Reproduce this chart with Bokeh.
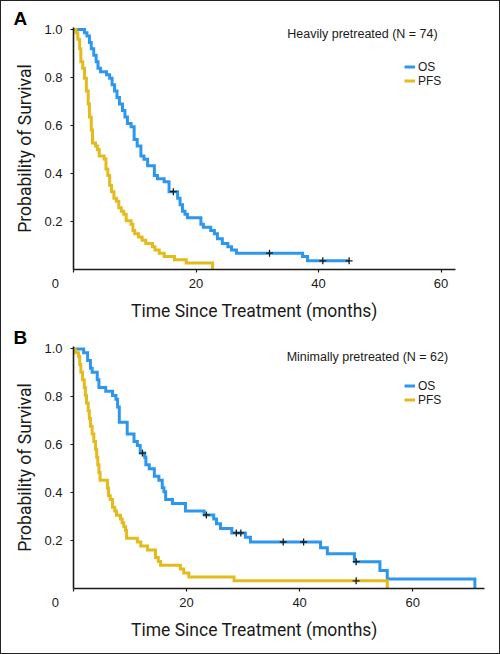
from bokeh.plotting import figure
from bokeh.layouts import column
from bokeh.models import Range1d, FixedTicker, Label, Legend, LegendItem, PrintfTickFormatter
from bokeh.embed import file_html
from bokeh.resources import INLINE

# ---------------- data ----------------
# Panel A: heavily pretreated (N = 74)
a_os_t = [0, 1.8, 2.2, 2.6, 2.9, 3.3, 3.7, 4.0, 4.4, 5.4, 5.9, 6.3, 6.7, 7.1, 7.5, 8.0, 8.4, 8.8, 9.4,
          9.9, 10.4, 11.0, 11.5, 12.1, 13.2, 13.7, 14.8, 15.6, 17.0, 17.4, 17.8, 18.2, 18.6, 20.8, 21.2,
          22.4, 23.0, 23.5, 24.3, 25.2, 25.8, 26.6, 37.4, 38.2, 45.0]
a_os_s = [1.0, 0.986, 0.973, 0.946, 0.919, 0.892, 0.865, 0.838, 0.824, 0.811, 0.797, 0.770, 0.743, 0.716, 0.689,
          0.662, 0.635, 0.608, 0.595, 0.541, 0.514, 0.473, 0.459, 0.432, 0.392, 0.378, 0.365, 0.324, 0.297,
          0.270, 0.243, 0.230, 0.216, 0.189, 0.176, 0.162, 0.149, 0.128, 0.108, 0.095, 0.081, 0.068, 0.054,
          0.036, 0.036]
a_os_cens_t = [16.3, 32.0, 40.7, 45.0]
a_os_cens_s = [0.324, 0.068, 0.036, 0.036]

a_pfs_t = [0, 0.4, 0.7, 1.0, 1.2, 1.5, 1.8, 2.1, 2.4, 2.6, 2.9, 3.1, 3.6, 3.9, 4.2, 5.0, 5.3, 5.6, 5.9,
           6.2, 6.6, 7.0, 7.4, 7.8, 8.2, 8.6, 9.4, 9.7, 10.0, 10.6, 11.2, 11.8, 12.9, 13.3, 14.0, 14.8,
           16.5, 18.4, 22.7]
a_pfs_s = [1.0, 0.986, 0.959, 0.919, 0.865, 0.838, 0.797, 0.743, 0.689, 0.635, 0.581, 0.527, 0.514, 0.500,
           0.473, 0.460, 0.419, 0.392, 0.351, 0.324, 0.297, 0.284, 0.257, 0.243, 0.230, 0.203, 0.189, 0.162,
           0.149, 0.135, 0.122, 0.108, 0.095, 0.081, 0.068, 0.054, 0.041, 0.027, 0.0]

# Panel B: minimally pretreated (N = 62)
b_os_t = [0, 1.8, 2.5, 3.0, 3.3, 4.2, 4.5, 5.7, 6.9, 7.5, 7.8, 8.1, 9.5, 10.7, 11.3, 11.8, 12.6, 12.8,
          13.4, 14.3, 15.1, 15.7, 16.0, 16.3, 17.5, 19.8, 23.1, 24.8, 25.3, 26.0, 28.0, 30.4, 31.3, 43.7,
          44.9, 49.7, 54.2, 55.5, 71.0]
b_os_s = [1.0, 0.984, 0.952, 0.919, 0.903, 0.871, 0.839, 0.823, 0.806, 0.790, 0.758, 0.694, 0.645, 0.613,
          0.597, 0.565, 0.548, 0.516, 0.500, 0.468, 0.452, 0.420, 0.404, 0.371, 0.355, 0.323, 0.307, 0.290,
          0.270, 0.250, 0.232, 0.214, 0.194, 0.170, 0.145, 0.112, 0.075, 0.040, 0.0]
b_os_cens_t = [12.2, 23.5, 28.8, 29.6, 37.1, 40.7, 50.0]
b_os_cens_s = [0.565, 0.307, 0.232, 0.232, 0.194, 0.194, 0.112]

b_pfs_t = [0, 0.3, 0.9, 1.1, 1.3, 1.6, 1.9, 2.1, 2.3, 2.6, 2.8, 3.0, 3.3, 3.6, 3.9, 4.1, 4.3, 4.5, 4.7,
           6.0, 6.2, 6.5, 6.9, 7.3, 7.6, 8.3, 8.6, 8.9, 9.2, 9.4, 11.3, 11.9, 13.1, 14.5, 15.0, 15.4,
           18.9, 19.5, 20.4, 28.4, 55.5]
b_pfs_s = [1.0, 0.984, 0.968, 0.935, 0.903, 0.871, 0.839, 0.806, 0.774, 0.742, 0.710, 0.677, 0.645, 0.613,
           0.581, 0.548, 0.516, 0.484, 0.452, 0.419, 0.387, 0.371, 0.339, 0.323, 0.306, 0.290, 0.274, 0.258,
           0.242, 0.210, 0.194, 0.177, 0.161, 0.129, 0.113, 0.097, 0.081, 0.065, 0.048, 0.032, 0.0]
b_pfs_cens_t = [50.0]
b_pfs_cens_s = [0.032]

x_ticks = [0, 20, 40, 60]
y_ticks = [0.2, 0.4, 0.6, 0.8, 1.0]
series_names = ["OS", "PFS"]
panel_titles = ["Heavily pretreated (N = 74)", "Minimally pretreated (N = 62)"]
panel_letters = ["A", "B"]
x_label = "Time Since Treatment (months)"
y_label = "Probability of Survival"

# ---------------- styling ----------------
BLUE = "#2D97EF"
YELLOW = "#E4BA1C"
INK = "#1a1a1a"
FONT = "Liberation Sans"
LABEL_FONT = "Roboto"
FSP = "\u2007"


def make_panel(os_t, os_s, osc_t, osc_s, pfs_t, pfs_s, pfc_t, pfc_s,
               xmax, xaxis_end, ymax, height, border_top, border_bottom,
               title, letter, title_x, title_y, legend_vy, xlabel_pad):
    p = figure(width=498, height=height, output_backend="svg", toolbar_location=None,
               x_range=Range1d(0, xmax), y_range=Range1d(0, ymax),
               min_border_left=72, min_border_right=15,
               min_border_top=border_top, min_border_bottom=border_bottom)
    p.outline_line_color = None
    p.grid.visible = False
    p.background_fill_color = "white"
    p.border_fill_color = "white"

    # panel letter
    p.title.text = letter
    p.title.align = "left"
    p.title.offset = -60
    p.title.standoff = -3
    p.title.text_font = FONT
    p.title.text_font_size = "19px"
    p.title.text_font_style = "bold"
    p.title.text_color = "black"

    for ax in (p.xaxis[0], p.yaxis[0]):
        ax.axis_line_color = INK
        ax.axis_line_width = 1.6
        ax.major_tick_line_color = INK
        ax.major_tick_line_width = 1.2
        ax.major_tick_out = 3
        ax.major_tick_in = 0
        ax.minor_tick_line_color = None
        ax.major_label_text_font = FONT
        ax.major_label_text_font_size = "13px"
        ax.major_label_text_color = INK
        ax.axis_label_text_font = LABEL_FONT
        ax.axis_label_text_font_size = "17.5px"
        ax.axis_label_text_font_style = "normal"
        ax.axis_label_text_color = INK

    p.xaxis.bounds = (0, xaxis_end)
    p.xaxis.ticker = FixedTicker(ticks=x_ticks)
    p.yaxis.ticker = FixedTicker(ticks=y_ticks)
    p.yaxis.formatter = PrintfTickFormatter(format="%.1f")
    p.xaxis.major_label_overrides = {0: "0" + FSP * 5}
    p.xaxis.axis_label = x_label + FSP * xlabel_pad
    p.yaxis.axis_label = y_label
    p.xaxis.major_label_standoff = 3
    p.yaxis.major_label_standoff = 8
    p.xaxis.axis_label_standoff = 7
    p.yaxis.axis_label_standoff = 6

    r_os = p.step(os_t, os_s, mode="after", line_color=BLUE, line_width=3, line_join="miter")
    r_pfs = p.step(pfs_t, pfs_s, mode="after", line_color=YELLOW, line_width=3, line_join="miter")
    p.scatter(osc_t, osc_s, marker="cross", size=7, line_color=INK, line_width=1.3)
    p.scatter(pfc_t, pfc_s, marker="cross", size=7, line_color=INK, line_width=1.3)

    legend = Legend(items=[LegendItem(label=series_names[0], renderers=[r_os]),
                           LegendItem(label=series_names[1], renderers=[r_pfs])],
                    location=(331, legend_vy), orientation="vertical")
    legend.background_fill_alpha = 0
    legend.border_line_color = None
    legend.padding = 0
    legend.margin = 0
    legend.spacing = 0
    legend.glyph_width = 11
    legend.glyph_height = 13
    legend.label_height = 13
    legend.label_standoff = 3
    legend.label_text_font = FONT
    legend.label_text_font_size = "12px"
    legend.label_text_color = INK
    p.add_layout(legend)

    p.add_layout(Label(x=title_x, y=title_y, text=title, text_font=FONT, text_font_size="12.5px",
                       text_color=INK, text_baseline="middle", text_align="left"))
    return p


pA = make_panel(a_os_t, a_os_s, a_os_cens_t, a_os_cens_s, a_pfs_t, a_pfs_s, [], [],
                xmax=67.1, xaxis_end=62.4, ymax=1.008, height=323, border_top=26, border_bottom=55,
                title=panel_titles[0], letter=panel_letters[0],
                title_x=34.9, title_y=0.982, legend_vy=181.5, xlabel_pad=5)
pB = make_panel(b_os_t, b_os_s, b_os_cens_t, b_os_cens_s, b_pfs_t, b_pfs_s, b_pfs_cens_t, b_pfs_cens_s,
                xmax=72.7, xaxis_end=72.7, ymax=1.01, height=329, border_top=22, border_bottom=65,
                title=panel_titles[1], letter=panel_letters[1],
                title_x=37.7, title_y=0.968, legend_vy=181.5, xlabel_pad=5)

layout = column(pA, pB, spacing=0, styles={"border": "1px solid #222", "background": "white"})

open("out.html", "w").write(file_html(layout, INLINE))
